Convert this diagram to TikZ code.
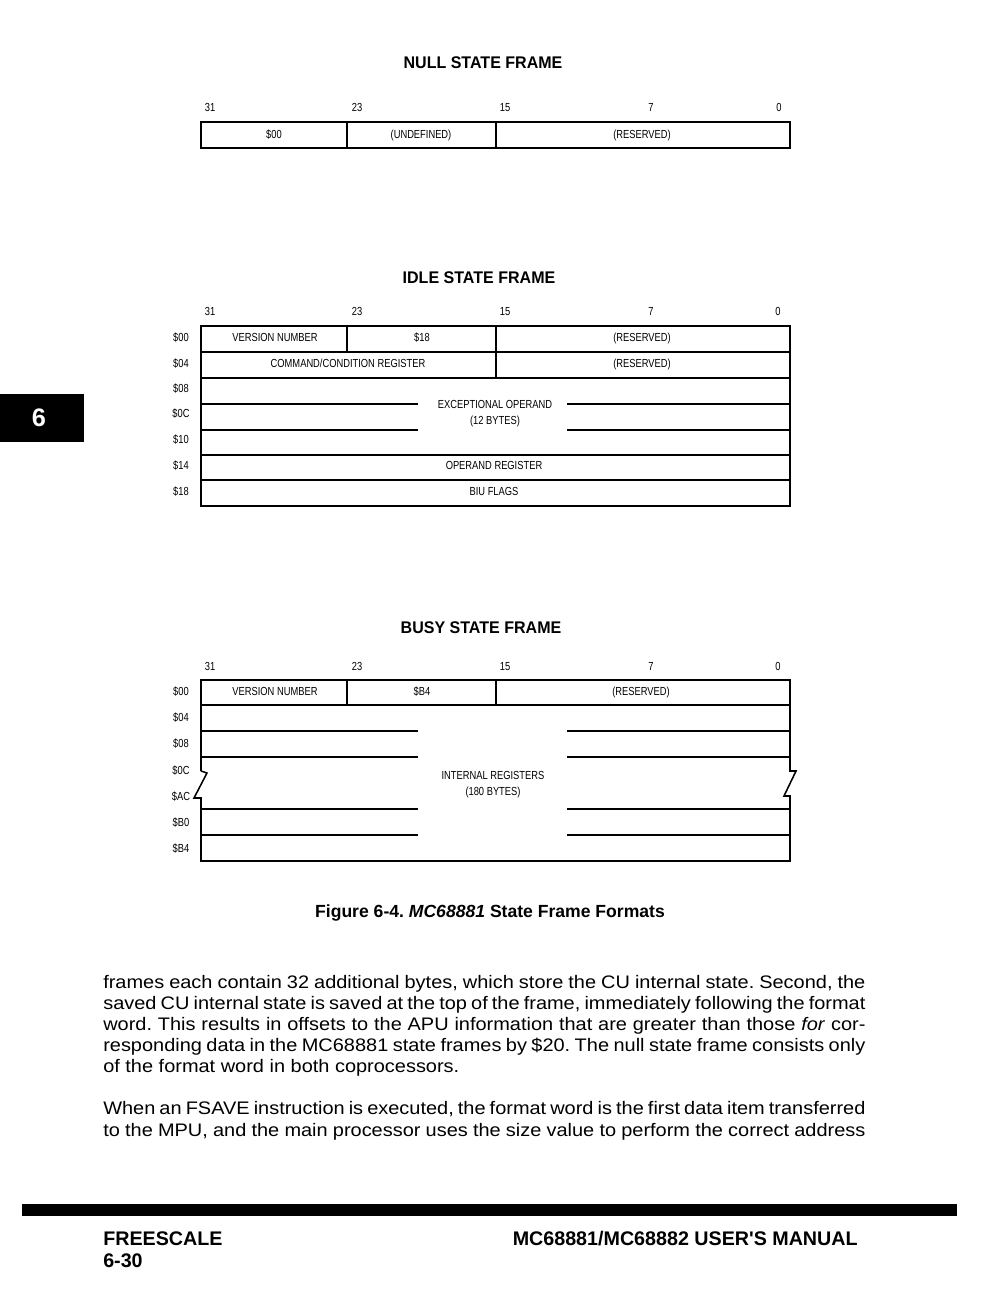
\documentclass[tikz,border=0pt]{standalone}
\usepackage{fontspec}
\setmainfont{Liberation Sans}
\newfontfamily\labelfont[FakeStretch=0.8]{Liberation Sans}
\newfontfamily\headfont[FakeStretch=0.95]{Liberation Sans}
\newfontfamily\bodyfont[FakeStretch=1.1]{Liberation Sans}
\usetikzlibrary{positioning}
\newcommand{\textline}[1]{\makebox[542pt][s]{#1}}
\frenchspacing

\begin{document}
\begin{tikzpicture}[x=0.025cm, y=-0.025cm,
    frame/.style={line width=1.1pt},
    fld/.style={font=\labelfont\fontsize{8.3}{9}\selectfont, inner sep=0pt, text height=6pt, text depth=0.5pt},
    fldpair/.style={font=\labelfont\fontsize{8.3}{11.5}\selectfont, inner sep=0pt, align=center},
    bit/.style={font=\labelfont\fontsize{8.3}{9}\selectfont, inner sep=0pt, anchor=base},
    offs/.style={font=\labelfont\fontsize{8.3}{9}\selectfont, inner sep=0pt, text height=6pt, text depth=0.5pt},
    head/.style={font=\headfont\bfseries\fontsize{12}{14}\selectfont, inner sep=0pt},
    body/.style={font=\bodyfont\fontsize{12.9}{15}\selectfont, anchor=base west, inner sep=0pt},
    foot/.style={font=\bfseries\fontsize{14}{16}\selectfont, anchor=base west, inner sep=0pt}
]
\useasboundingbox (0,0) rectangle (980,1294);

% null state frame
\node[head] (nullhd) at (483,63) {NULL STATE FRAME};
\foreach \b/\x in {31/210,23/357,15/505,7/651,0/779}
  \node[bit] (nullbit\b) at (\x,112) {\b};
\draw[frame] (201,122) rectangle (790,148);
\draw[frame] (347,122) -- (347,148) (496,122) -- (496,148);
\node[fld] (nullfmt) at (274,135) {\$00};
\node[fld] (nullund) at (421,135) {(UNDEFINED)};
\node[fld] (nullres) at (642,135) {(RESERVED)};

% idle state frame
\node[head] (idlehd) at (479,278) {IDLE STATE FRAME};
\foreach \b/\x in {31/210,23/357,15/505,7/651,0/778}
  \node[bit] (idlebit\b) at (\x,315) {\b};
\foreach \o/\y in {00/338,04/364,08/389,0C/414,10/440,14/466,18/492}
  \node[offs] (idleoff\o) at (181,\y) {\$\o};
\draw[frame] (201,326) rectangle (790,506);
\foreach \y in {352,378,455,480}
  \draw[frame] (201,\y) -- (790,\y);
\foreach \y in {404,430}
  \draw[frame] (201,\y) -- (418,\y) (567,\y) -- (790,\y);
\draw[frame] (347,326) -- (347,352) (496,326) -- (496,378);
\node[fld] (idlever) at (275,338) {VERSION NUMBER};
\node[fld] (idlesize) at (422,338) {\$18};
\node[fld] (idleresa) at (642,338) {(RESERVED)};
\node[fld] (idleccr) at (348,364) {COMMAND/CONDITION REGISTER};
\node[fld] (idleresb) at (642,364) {(RESERVED)};
\node[fldpair] (idleexc) at (495,414) {EXCEPTIONAL OPERAND\\(12 BYTES)};
\node[fld] (idleopr) at (494,466) {OPERAND REGISTER};
\node[fld] (idlebiu) at (494,492) {BIU FLAGS};

% busy state frame
\node[head] (busyhd) at (481,628) {BUSY STATE FRAME};
\foreach \b/\x in {31/210,23/357,15/505,7/651,0/778}
  \node[bit] (busybit\b) at (\x,670) {\b};
\foreach \o/\y in {00/692,04/718,08/744,0C/771,AC/797,B0/823,B4/849}
  \node[offs] (busyoff\o) at (181,\y) {\$\o};
\draw[frame] (201,771) -- (201,680) -- (790,680) -- (790,771) -- (796,771) -- (784,796)
  -- (790,796) -- (790,861) -- (201,861) -- (201,798) -- (194,798) -- (207,773) -- (201,771);
\draw[frame] (201,705) -- (790,705);
\foreach \y in {731,757,809,835}
  \draw[frame] (201,\y) -- (418,\y) (567,\y) -- (790,\y);
\draw[frame] (347,680) -- (347,705) (496,680) -- (496,705);
\node[fld] (busyver) at (275,692) {VERSION NUMBER};
\node[fld] (busysize) at (422,692) {\$B4};
\node[fld] (busyres) at (641,692) {(RESERVED)};
\node[fldpair] (busyint) at (493,785) {INTERNAL REGISTERS\\(180 BYTES)};

\node[font=\bfseries\fontsize{12.5}{14}\selectfont, inner sep=0pt] (caption) at (490,913)
  {Figure 6-4. \textit{MC68881} State Frame Formats};

% running text
\node[body] (txta) at (103,988) {\textline{frames each contain 32 additional bytes, which store the CU internal state. Second, the}};
\node[body] (txtb) at (103,1009) {\textline{saved CU internal state is saved at the top of the frame, immediately following the format}};
\node[body] (txtc) at (103,1030) {\textline{word. This results in offsets to the APU information that are greater than those \textit{for} cor-}};
\node[body] (txtd) at (103,1051) {\textline{responding data in the MC68881 state frames by \$20. The null state frame consists only}};
\node[body] (txte) at (103,1072) {of the format word in both coprocessors.};
\node[body] (txtf) at (103,1114) {\textline{When an FSAVE instruction is executed, the format word is the first data item transferred}};
\node[body] (txtg) at (103,1136) {\textline{to the MPU, and the main processor uses the size value to perform the correct address}};

% chapter tab and footer
\fill (0,394) rectangle (84,442);
\node[text=white, font=\bfseries\fontsize{18}{20}\selectfont, inner sep=0pt] (tab) at (39,418) {6};
\fill (22,1204) rectangle (957,1216);
\node[foot] (fsl) at (103,1245) {FREESCALE};
\node[foot] (pgno) at (103,1267) {6-30};
\node[foot, anchor=base east] (manual) at (858,1245) {MC68881/MC68882 USER\textquotesingle S MANUAL};
\end{tikzpicture}
\end{document}
